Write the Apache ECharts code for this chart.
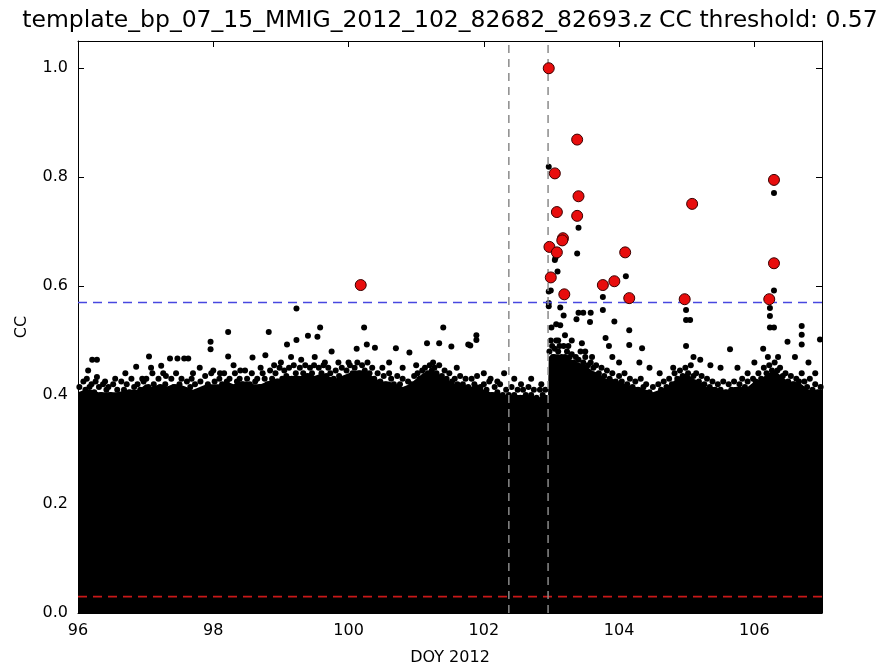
<!DOCTYPE html>
<html>
<head>
<meta charset="utf-8">
<script src="https://cdn.jsdelivr.net/npm/echarts@6/dist/echarts.min.js"></script>
<style>html,body{margin:0;padding:0;background:#fff}#c{width:889px;height:671px}</style>
</head>
<body>
<div id="c"></div>
<script>
// ---- data ----
var titleText = "template_bp_07_15_MMIG_2012_102_82682_82693.z CC threshold: 0.57";
var xTicks = [96, 98, 100, 102, 104, 106];
var yTicks = [0.0, 0.2, 0.4, 0.6, 0.8, 1.0];
var threshold = 0.57;
var lowLine = 0.03;
var vLines = [102.37, 102.95];

// upper edge of the solid black mass of points (x, CC)
var envX = [96.0,96.1,96.2,96.3,96.4,96.5,96.6,96.7,96.8,96.9,
  97.0,97.1,97.2,97.3,97.4,97.5,97.6,97.7,97.8,97.9,
  98.0,98.1,98.2,98.3,98.4,98.5,98.6,98.7,98.8,98.9,
  99.0,99.1,99.2,99.3,99.4,99.5,99.6,99.7,99.8,99.9,
  100.0,100.1,100.2,100.3,100.4,100.5,100.6,100.7,100.8,100.9,
  101.0,101.1,101.2,101.3,101.4,101.5,101.6,101.7,101.8,101.9,
  102.0,102.1,102.2,102.3,102.4,102.5,102.6,102.7,102.8,102.9,102.95,
  102.96,103.0,103.1,103.2,103.3,103.4,103.5,103.6,103.7,103.8,103.9,
  104.0,104.1,104.2,104.3,104.4,104.5,104.6,104.7,104.8,104.9,
  105.0,105.1,105.2,105.3,105.4,105.5,105.6,105.7,105.8,105.9,
  106.0,106.1,106.2,106.3,106.4,106.5,106.6,106.7,106.8,106.9,107.0];
var envY = [0.405,0.41,0.41,0.405,0.405,0.405,0.405,0.41,0.41,0.41,
  0.42,0.415,0.42,0.415,0.42,0.42,0.415,0.41,0.415,0.42,
  0.42,0.42,0.425,0.42,0.425,0.425,0.42,0.42,0.425,0.43,
  0.43,0.435,0.435,0.435,0.44,0.435,0.44,0.435,0.43,0.435,
  0.44,0.445,0.445,0.44,0.43,0.425,0.425,0.42,0.415,0.42,
  0.43,0.44,0.445,0.44,0.435,0.425,0.42,0.42,0.415,0.42,
  0.41,0.405,0.405,0.40,0.40,0.40,0.40,0.40,0.395,0.40,0.40,
  0.47,0.475,0.475,0.47,0.465,0.46,0.455,0.445,0.44,0.43,0.43,
  0.425,0.42,0.415,0.415,0.41,0.405,0.41,0.415,0.425,0.435,
  0.44,0.43,0.425,0.415,0.415,0.41,0.41,0.415,0.415,0.415,
  0.425,0.43,0.44,0.445,0.435,0.425,0.425,0.42,0.41,0.41,0.41];

// dense fringe of points along the top of the mass [DOY, CC]
var fringePts = [
  [96.02,0.415],[96.05,0.40],[96.08,0.425],[96.11,0.41],[96.13,0.43],[96.17,0.415],[96.2,0.42],[96.24,0.405],
  [96.26,0.425],[96.31,0.415],[96.34,0.40],[96.37,0.42],[96.42,0.41],[96.45,0.415],[96.48,0.40],[96.52,0.42],
  [96.58,0.41],[96.61,0.40],[96.64,0.425],[96.68,0.41],[96.72,0.42],[96.76,0.405],[96.79,0.43],[96.83,0.415],
  [96.88,0.42],[96.92,0.41],[96.97,0.425],
  [97.01,0.43],[97.04,0.415],[97.08,0.45],[97.12,0.42],[97.15,0.41],[97.19,0.43],[97.22,0.415],[97.26,0.44],
  [97.29,0.42],[97.33,0.41],[97.38,0.43],[97.42,0.415],[97.45,0.44],[97.5,0.42],[97.53,0.43],[97.58,0.41],
  [97.61,0.425],[97.66,0.415],[97.68,0.43],[97.73,0.42],[97.77,0.40],[97.81,0.425],[97.85,0.41],[97.88,0.435],
  [97.92,0.42],[97.97,0.44],
  [98.02,0.425],[98.05,0.41],[98.09,0.43],[98.13,0.42],[98.16,0.44],[98.2,0.425],[98.24,0.43],[98.27,0.415],
  [98.32,0.44],[98.35,0.425],[98.39,0.43],[98.43,0.42],[98.47,0.445],[98.5,0.43],[98.54,0.42],[98.57,0.44],
  [98.62,0.425],[98.65,0.43],[98.69,0.415],[98.73,0.44],[98.76,0.43],[98.8,0.42],[98.84,0.445],[98.87,0.43],
  [98.92,0.44],[98.95,0.425],[98.98,0.45],
  [99.02,0.43],[99.05,0.445],[99.08,0.435],[99.12,0.45],[99.16,0.43],[99.19,0.455],[99.22,0.44],[99.26,0.43],
  [99.28,0.45],[99.33,0.44],[99.36,0.455],[99.39,0.435],[99.43,0.45],[99.46,0.44],[99.49,0.455],[99.52,0.43],
  [99.56,0.45],[99.6,0.44],[99.63,0.455],[99.67,0.435],[99.7,0.45],[99.73,0.44],[99.78,0.43],[99.81,0.445],
  [99.86,0.435],[99.9,0.45],[99.94,0.43],[99.97,0.445],
  [100.02,0.455],[100.06,0.44],[100.09,0.45],[100.13,0.46],[100.16,0.44],[100.2,0.455],[100.24,0.445],[100.28,0.46],
  [100.31,0.44],[100.35,0.45],[100.38,0.43],[100.43,0.44],[100.47,0.425],[100.52,0.435],[100.55,0.42],[100.6,0.44],
  [100.63,0.43],[100.67,0.42],[100.72,0.435],[100.76,0.42],[100.8,0.43],[100.84,0.41],[100.88,0.425],[100.93,0.42],
  [100.97,0.435],
  [101.02,0.44],[101.05,0.43],[101.09,0.445],[101.13,0.45],[101.17,0.44],[101.2,0.455],[101.23,0.445],[101.27,0.45],
  [101.3,0.44],[101.34,0.455],[101.38,0.435],[101.42,0.445],[101.45,0.43],[101.49,0.44],[101.53,0.425],[101.57,0.43],
  [101.61,0.42],[101.65,0.435],[101.69,0.42],[101.73,0.43],[101.77,0.415],[101.82,0.43],[101.86,0.42],[101.9,0.435],
  [101.95,0.415],
  [102.0,0.42],[102.04,0.41],[102.08,0.425],[102.12,0.40],[102.16,0.415],[102.2,0.405],[102.24,0.42],[102.28,0.40],
  [102.33,0.41],[102.37,0.40],[102.41,0.415],[102.45,0.40],[102.5,0.41],[102.54,0.395],[102.58,0.41],[102.62,0.40],
  [102.66,0.415],[102.7,0.40],[102.74,0.41],[102.78,0.395],[102.83,0.41],[102.87,0.40],[102.91,0.41],
  [102.97,0.48],[102.99,0.50],[103.01,0.49],[103.03,0.47],[103.05,0.485],[103.07,0.50],[103.1,0.48],[103.12,0.49],
  [103.15,0.47],[103.18,0.49],[103.2,0.47],[103.23,0.48],[103.27,0.47],[103.3,0.475],[103.33,0.46],[103.36,0.47],
  [103.4,0.465],[103.43,0.48],[103.47,0.46],[103.5,0.47],[103.54,0.455],[103.58,0.46],[103.62,0.45],[103.66,0.455],
  [103.7,0.44],[103.74,0.45],[103.78,0.435],[103.82,0.445],[103.86,0.43],[103.9,0.44],[103.95,0.425],
  [104.0,0.435],[104.04,0.425],[104.08,0.44],[104.12,0.42],[104.16,0.43],[104.2,0.415],[104.24,0.425],[104.28,0.41],
  [104.32,0.43],[104.36,0.415],[104.4,0.42],[104.45,0.405],[104.5,0.415],[104.54,0.40],[104.58,0.42],[104.62,0.41],
  [104.66,0.425],[104.7,0.415],[104.74,0.43],[104.78,0.42],[104.82,0.44],[104.86,0.43],[104.9,0.445],[104.94,0.435],
  [104.98,0.45],
  [105.02,0.44],[105.06,0.455],[105.1,0.435],[105.14,0.44],[105.18,0.425],[105.22,0.435],[105.26,0.42],[105.3,0.43],
  [105.34,0.415],[105.38,0.425],[105.42,0.41],[105.46,0.42],[105.5,0.41],[105.54,0.425],[105.58,0.405],[105.62,0.42],
  [105.66,0.41],[105.7,0.425],[105.74,0.41],[105.78,0.42],[105.82,0.43],[105.86,0.415],[105.9,0.425],[105.94,0.41],
  [105.98,0.43],
  [106.02,0.425],[106.06,0.44],[106.1,0.43],[106.14,0.45],[106.18,0.44],[106.22,0.455],[106.26,0.445],[106.3,0.46],
  [106.34,0.445],[106.38,0.45],[106.42,0.435],[106.46,0.44],[106.5,0.425],[106.54,0.435],[106.58,0.42],[106.62,0.43],
  [106.66,0.425],[106.7,0.44],[106.74,0.425],[106.78,0.415],[106.82,0.43],[106.86,0.41],[106.9,0.42],[106.94,0.405],
  [106.98,0.415]
];

// individual black points standing above the mass [DOY, CC]
var blackPts = [
  [96.15,0.445],[96.21,0.465],[96.28,0.465],[96.28,0.433],[96.4,0.425],[96.55,0.43],[96.7,0.44],
  [96.86,0.452],[96.95,0.43],[97.05,0.471],[97.1,0.44],[97.23,0.454],[97.3,0.435],[97.36,0.467],
  [97.47,0.467],[97.57,0.467],[97.63,0.467],[97.7,0.44],[97.8,0.45],[97.96,0.498],[97.96,0.484],
  [98.0,0.445],[98.1,0.44],[98.22,0.516],[98.22,0.471],[98.3,0.455],[98.4,0.445],[98.58,0.469],
  [98.7,0.45],[98.77,0.473],[98.82,0.516],[98.9,0.455],[99.09,0.493],[99.0,0.46],[99.15,0.47],
  [99.23,0.559],[99.23,0.501],[99.3,0.465],[99.40,0.509],[99.54,0.507],[99.58,0.524],[99.5,0.47],
  [99.65,0.46],[99.75,0.480],[99.85,0.46],[100.0,0.46],[100.12,0.485],[100.23,0.524],[100.27,0.493],
  [100.39,0.487],[100.5,0.45],[100.6,0.46],[100.70,0.486],[100.80,0.45],[100.90,0.478],[101.0,0.455],
  [101.16,0.495],[101.25,0.46],[101.34,0.495],[101.40,0.524],[101.52,0.489],[101.6,0.45],[101.77,0.493],
  [101.80,0.491],[101.89,0.510],[101.89,0.501],[102.0,0.44],[102.1,0.43],[102.2,0.425],[102.3,0.44],
  [102.45,0.43],[102.55,0.42],[102.7,0.43],[102.85,0.42],
  [102.96,0.819],[102.96,0.590],[102.96,0.569],[102.96,0.563],[102.99,0.592],[103.05,0.648],
  [103.06,0.652],[103.09,0.627],[103.38,0.660],[103.40,0.707],[103.13,0.561],[103.18,0.546],
  [103.37,0.539],[103.40,0.551],[103.47,0.551],[103.58,0.551],[103.57,0.534],[103.0,0.524],
  [103.07,0.53],[103.13,0.528],[103.1,0.50],[103.2,0.51],[103.25,0.49],[103.3,0.50],[103.45,0.495],
  [103.5,0.48],[103.6,0.47],[103.76,0.580],[103.76,0.556],[103.80,0.505],[103.85,0.49],[103.93,0.535],
  [103.9,0.47],[104.0,0.46],[104.15,0.519],[104.15,0.492],[104.10,0.618],[104.34,0.486],[104.3,0.46],
  [104.45,0.45],[104.6,0.44],[104.8,0.45],[104.99,0.556],[104.99,0.538],[105.05,0.538],[104.99,0.490],
  [105.1,0.47],[105.2,0.465],[105.35,0.455],[105.5,0.45],[105.64,0.484],[105.75,0.45],[105.9,0.44],
  [106.0,0.46],[106.13,0.485],[106.23,0.560],[106.23,0.545],[106.23,0.524],[106.29,0.524],[106.29,0.592],
  [106.29,0.771],[106.2,0.47],[106.35,0.47],[106.49,0.498],[106.6,0.47],[106.70,0.527],[106.70,0.511],
  [106.70,0.493],[106.8,0.46],[106.97,0.502],[106.9,0.44]
];

// detections above threshold [DOY, CC]
var redPts = [
  [100.18,0.602],[102.96,1.0],[103.38,0.869],[103.05,0.807],[103.40,0.765],[103.08,0.736],
  [103.38,0.729],[103.17,0.688],[103.16,0.684],[102.97,0.672],[103.08,0.662],[102.99,0.616],
  [103.19,0.585],[104.09,0.662],[103.93,0.609],[103.76,0.602],[104.15,0.578],[105.08,0.751],
  [104.97,0.576],[106.29,0.795],[106.29,0.642],[106.22,0.576]
];

var xMin = 96, xMax = 107, yMin = 0, yMax = 1.05;

// ---- chart ----
var envData = envX.map(function (x, i) { return [x, envY[i]]; });
var font = 'DejaVu Sans';
var chart = echarts.init(document.getElementById('c'), null, {renderer: 'canvas'});

function axisCommon(show) {
  return {
    axisLine: {show: true, onZero: false, lineStyle: {color: '#000', width: 1}},
    axisTick: {show: true, inside: true, length: 6, lineStyle: {color: '#000', width: 1}},
    splitLine: {show: false},
    axisLabel: {show: show, color: '#000', fontFamily: font, fontSize: 16, showMaxLabel: false}
  };
}

var xa = Object.assign(axisCommon(true), {
  type: 'value', min: xMin, max: xMax, interval: 2, position: 'bottom',
  name: 'DOY 2012', nameLocation: 'middle', nameGap: 37,
  nameTextStyle: {color: '#000', fontFamily: font, fontSize: 16}
});
xa.axisLabel.margin = 10;
var xa2 = Object.assign(axisCommon(false), {type: 'value', min: xMin, max: xMax, interval: 2, position: 'top'});
var ya = Object.assign(axisCommon(true), {
  type: 'value', min: yMin, max: yMax, interval: 0.2, position: 'left',
  name: 'CC', nameLocation: 'middle', nameGap: 48,
  nameTextStyle: {color: '#000', fontFamily: font, fontSize: 16}
});
ya.axisLabel.formatter = function (v) { return v.toFixed(1); };
ya.axisLabel.margin = 10;
var ya2 = Object.assign(axisCommon(false), {type: 'value', min: yMin, max: yMax, interval: 0.2, position: 'right'});

function vline(x) {
  return {
    type: 'line', xAxisIndex: 0, yAxisIndex: 0, data: [[x, yMin], [x, yMax]],
    symbol: 'none', silent: true, z: 4,
    lineStyle: {color: '#8a8a8a', width: 1.5, type: [8, 6]}
  };
}
function hline(y, color) {
  return {
    type: 'line', xAxisIndex: 0, yAxisIndex: 0, data: [[xMin, y], [xMax, y]],
    symbol: 'none', silent: true, z: 4,
    lineStyle: {color: color, width: 1.6, type: [9, 6]}
  };
}

chart.setOption({
  animation: false,
  backgroundColor: '#fff',
  grid: {left: 78, right: 67, top: 41, bottom: 53, containLabel: false},
  xAxis: [xa, xa2],
  yAxis: [ya, ya2],
  graphic: [{
    type: 'text', x: 450, y: 21,
    style: {text: titleText, fill: '#000', font: '23.5px "DejaVu Sans"', textAlign: 'center', textVerticalAlign: 'middle'}
  }],
  series: [
    {
      type: 'line', data: envData, symbol: 'none', silent: true, z: 2,
      lineStyle: {width: 0, color: '#000'}, areaStyle: {color: '#000', opacity: 1}
    },
    {
      type: 'scatter', data: fringePts, symbol: 'circle', symbolSize: 6, z: 3, silent: true,
      itemStyle: {color: '#000', opacity: 1}
    },
    {
      type: 'scatter', data: blackPts, symbol: 'circle', symbolSize: 6, z: 3,
      itemStyle: {color: '#000', opacity: 1}
    },
    hline(threshold, '#4848e0'),
    hline(lowLine, '#c81818'),
    vline(vLines[0]),
    vline(vLines[1]),
    {
      type: 'scatter', data: redPts, symbol: 'circle', symbolSize: 11, z: 6,
      itemStyle: {color: '#e80d0d', borderColor: '#3a0000', borderWidth: 1, opacity: 1}
    }
  ]
});
</script>
</body>
</html>
